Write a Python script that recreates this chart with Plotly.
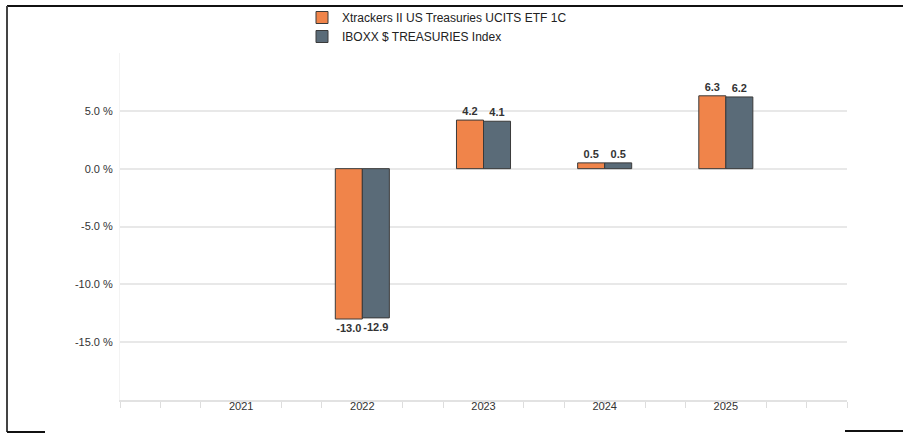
import plotly.graph_objects as go

years = [2021, 2022, 2023, 2024, 2025]
etf_values = [None, -13.0, 4.2, 0.5, 6.3]
index_values = [None, -12.9, 4.1, 0.5, 6.2]
etf_name = "Xtrackers II US Treasuries UCITS ETF 1C"
index_name = "IBOXX $ TREASURIES Index"
y_tickvals = [-15, -10, -5, 0, 5, 10]
y_ticktext = ["-15.0 %", "-10.0 %", "-5.0 %", "0.0 %", "5.0 %", ""]

W, H = 903, 435
L, R, T, B = 120, 56, 53, 35
PW, PH = W - L - R, H - T - B


def px(x):
    return (x - L) / PW


def py(y):
    return (H - B - y) / PH


def fmt(v):
    return "" if v is None else f"{v:.1f}"


fig = go.Figure()
fig.add_trace(go.Bar(
    x=years, y=etf_values, name=etf_name,
    marker=dict(color="#F0844A", line=dict(color="#3a3a3a", width=1)),
    text=[fmt(v) for v in etf_values], textposition="outside",
    textfont=dict(size=11, color="#333333", weight="bold"), cliponaxis=False,
))
fig.add_trace(go.Bar(
    x=years, y=index_values, name=index_name,
    marker=dict(color="#5A6B78", line=dict(color="#3a3a3a", width=1)),
    text=[fmt(v) for v in index_values], textposition="outside",
    textfont=dict(size=11, color="#333333", weight="bold"), cliponaxis=False,
))

shapes = [
    # screenshot frame lines
    dict(type="line", xref="paper", yref="paper", x0=px(7), x1=px(903), y0=py(6), y1=py(6),
         line=dict(color="#111111", width=2)),
    dict(type="line", xref="paper", yref="paper", x0=px(7), x1=px(7), y0=py(6), y1=py(432),
         line=dict(color="#444444", width=2)),
    dict(type="line", xref="paper", yref="paper", x0=px(7), x1=px(45), y0=py(432), y1=py(432),
         line=dict(color="#111111", width=2)),
    dict(type="line", xref="paper", yref="paper", x0=px(845), x1=px(903), y0=py(431), y1=py(431),
         line=dict(color="#111111", width=2)),
]

fig.update_layout(
    width=W, height=H,
    margin=dict(l=L, r=R, t=T, b=B, pad=0, autoexpand=False),
    paper_bgcolor="white", plot_bgcolor="white",
    font=dict(family="Liberation Sans, Arial, sans-serif", size=11, color="#333333"),
    barmode="group", bargap=0.554, bargroupgap=0,
    showlegend=True,
    legend=dict(xref="container", yref="container", x=302 / W, y=1 - 3 / H,
                xanchor="left", yanchor="top", orientation="v",
                font=dict(size=12, color="#222222"), itemwidth=30, tracegroupgap=0,
                bgcolor="rgba(0,0,0,0)"),
    shapes=shapes,
    xaxis=dict(
        range=[2020, 2026], tickvals=years, ticktext=[str(y) for y in years],
        showgrid=False, zeroline=False, ticks="", tickfont=dict(size=11, color="#333333"),
        ticklabelstandoff=-5,
        showline=True, linecolor="#e2e2e2", linewidth=2,
        minor=dict(dtick=1/3, tick0=2020, ticks="outside", ticklen=6, tickcolor="#dddddd", tickwidth=1,
                   showgrid=False),
    ),
    yaxis=dict(
        range=[-20, 10], tickvals=y_tickvals, ticktext=y_ticktext,
        showgrid=True, gridcolor="#e8e8e8", gridwidth=1.5,
        zeroline=False, showline=True, linecolor="#f3f3f3", linewidth=1,
        ticks="", ticklabelstandoff=4, tickfont=dict(size=11, color="#333333"),
    ),
)

fig.write_html("out.html", config={"displayModeBar": False},
               post_script="document.body.style.margin='0';")
